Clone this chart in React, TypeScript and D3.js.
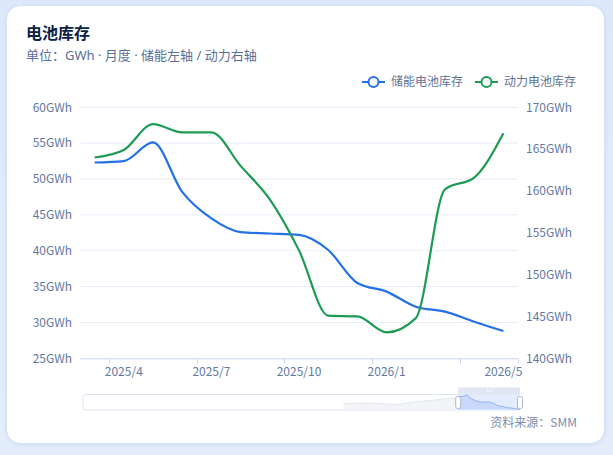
import * as d3 from 'd3';
import { useEffect, useRef } from 'react';

// x categories shown in the chart window
const months = [
  '2025/3', '2025/4', '2025/5', '2025/6', '2025/7', '2025/8', '2025/9', '2025/10',
  '2025/11', '2025/12', '2026/1', '2026/2', '2026/3', '2026/4', '2026/5',
];
// 储能电池库存 (left axis, GWh)
const storage = [52.3, 52.5, 55.1, 48.2, 44.5, 42.6, 42.4, 42.2, 40.1, 35.5, 34.3, 32.2, 31.5, 30.1, 28.8];
// 动力电池库存 (right axis, GWh)
const power = [164.0, 164.9, 168.0, 167.0, 167.0, 163.0, 159.0, 152.9, 145.1, 145.0, 143.1, 144.8, 160.2, 161.6, 166.9];
// earlier storage values, only seen in the zoom slider shadow
const storageHistory = [
  39.3, 39.5, 39.8, 40.0, 40.2, 40.4, 40.5, 40.1, 39.6, 39.1, 38.6, 38.1, 37.6, 38.7,
  39.9, 41.1, 42.3, 43.1, 43.9, 44.7, 45.5, 46.3, 47.2, 48.1, 49.0, 49.8,
];
const emptyMonths = 59; // months before any data in the slider range

const labelMonths = ['2025/4', '2025/7', '2025/10', '2026/1', '2026/5'];
const tickMonths = ['2025/4', '2025/7', '2025/10', '2026/1', '2026/4'];
const leftTicks = [25, 30, 35, 40, 45, 50, 55, 60];
const rightTicks = [140, 145, 150, 155, 160, 165, 170];

const seriesNames = ['储能电池库存', '动力电池库存'];
const colors = ['#2470e6', '#1e9b52'];

const FONT = "'Noto Sans CJK SC', 'Noto Sans', sans-serif";
const SUB_FONT = "'Noto Sans', 'Noto Sans CJK SC', sans-serif";

export default function App() {
  const ref = useRef<SVGSVGElement | null>(null);

  useEffect(() => {
    if (!ref.current) return;
    const svg = d3.select(ref.current);
    svg.selectAll('*').remove();

    const width = 613;
    const height = 455;
    const plot = { left: 80, right: 518, top: 107.3, bottom: 358.3 };
    const axisColor = '#6479a0';

    // page background + card
    const defs = svg.append('defs');
    const bg = defs.append('linearGradient').attr('id', 'bg').attr('x1', 0).attr('y1', 0).attr('x2', 0).attr('y2', 1);
    bg.append('stop').attr('offset', '0%').attr('stop-color', '#dde9fb');
    bg.append('stop').attr('offset', '100%').attr('stop-color', '#e4eefb');
    const sh = defs.append('filter').attr('id', 'sh').attr('x', -0.1).attr('y', -0.1).attr('width', 1.2).attr('height', 1.2);
    sh.append('feDropShadow').attr('dx', 0).attr('dy', 1).attr('stdDeviation', 2).attr('flood-color', '#9fb6dc').attr('flood-opacity', 0.35);

    svg.append('rect').attr('width', width).attr('height', height).attr('fill', 'url(#bg)');
    svg
      .append('rect')
      .attr('x', 6.5)
      .attr('y', 5.5)
      .attr('width', 598)
      .attr('height', 438)
      .attr('rx', 14)
      .attr('fill', '#ffffff')
      .attr('stroke', '#d4e1f4')
      .attr('filter', 'url(#sh)');

    // title
    svg.append('text').attr('x', 26).attr('y', 39).text('电池库存')
      .attr('font-size', 16).attr('font-weight', 700).attr('fill', '#0d2147').attr('font-family', FONT);
    svg.append('text').attr('x', 26).attr('y', 60).text('单位：GWh · 月度 · 储能左轴 / 动力右轴')
      .attr('font-size', 13).attr('fill', '#5a6f98').attr('font-family', SUB_FONT);

    // scales
    const x = d3.scaleBand<string>().domain(months).range([plot.left, plot.right]);
    const cx = (m: string) => (x(m) || 0) + x.bandwidth() / 2;
    const yL = d3.scaleLinear().domain([25, 60]).range([plot.bottom, plot.top]);
    const yR = d3.scaleLinear().domain([140, 170]).range([plot.bottom, plot.top]);

    // grid lines
    svg.append('g').selectAll('line').data(leftTicks.slice(1)).enter().append('line')
      .attr('x1', plot.left).attr('x2', plot.right)
      .attr('y1', (d) => yL(d)).attr('y2', (d) => yL(d))
      .attr('stroke', '#e5edf8').attr('stroke-width', 1);

    // left axis labels
    svg.append('g').selectAll('text').data(leftTicks).enter().append('text')
      .attr('x', plot.left - 8).attr('y', (d) => yL(d)).attr('dy', '0.36em')
      .attr('text-anchor', 'end').text((d) => `${d}GWh`)
      .attr('font-size', 12).attr('fill', axisColor).attr('font-family', FONT);

    // right axis labels
    svg.append('g').selectAll('text').data(rightTicks).enter().append('text')
      .attr('x', plot.right + 8).attr('y', (d) => yR(d)).attr('dy', '0.36em')
      .attr('text-anchor', 'start').text((d) => `${d}GWh`)
      .attr('font-size', 12).attr('fill', axisColor).attr('font-family', FONT);

    // x axis
    svg.append('line').attr('x1', plot.left).attr('x2', plot.right)
      .attr('y1', plot.bottom + 0.5).attr('y2', plot.bottom + 0.5).attr('stroke', '#c9d8ee');
    const tickXs = tickMonths.map((m) => x(m) || 0).concat([plot.right]);
    svg.append('g').selectAll('line').data(tickXs).enter().append('line')
      .attr('x1', (d) => Math.round(d) + 0.5).attr('x2', (d) => Math.round(d) + 0.5)
      .attr('y1', plot.bottom + 0.5).attr('y2', plot.bottom + 5.5).attr('stroke', '#c9d8ee');
    svg.append('g').selectAll('text').data(labelMonths).enter().append('text')
      .attr('x', (d) => cx(d)).attr('y', plot.bottom + 13).attr('dy', '0.36em')
      .attr('text-anchor', 'middle').text((d) => d)
      .attr('font-size', 12).attr('fill', axisColor).attr('font-family', FONT);

    // lines
    const lineL = d3.line<number>().x((_, i) => cx(months[i])).y((d) => yL(d)).curve(d3.curveMonotoneX);
    const lineR = d3.line<number>().x((_, i) => cx(months[i])).y((d) => yR(d)).curve(d3.curveMonotoneX);
    svg.append('path').attr('d', lineL(storage) || '').attr('fill', 'none')
      .attr('stroke', colors[0]).attr('stroke-width', 2.2).attr('stroke-linejoin', 'round');
    svg.append('path').attr('d', lineR(power) || '').attr('fill', 'none')
      .attr('stroke', colors[1]).attr('stroke-width', 2.2).attr('stroke-linejoin', 'round');

    // legend
    const legendX = [362, 475];
    seriesNames.forEach((name, i) => {
      const g = svg.append('g').attr('transform', `translate(${legendX[i]}, 82)`);
      g.append('line').attr('x1', 0).attr('x2', 23).attr('y1', 0).attr('y2', 0)
        .attr('stroke', colors[i]).attr('stroke-width', 2);
      g.append('circle').attr('cx', 11.5).attr('cy', 0).attr('r', 5)
        .attr('fill', '#fff').attr('stroke', colors[i]).attr('stroke-width', 2);
      g.append('text').attr('x', 29).attr('y', 0).attr('dy', '0.36em').text(name)
        .attr('font-size', 12).attr('fill', '#5f7398').attr('font-family', FONT);
    });

    // data zoom slider
    const slider = { left: 83, right: 520, top: 394.5, bottom: 410 };
    const all: (number | null)[] = [
      ...Array.from({ length: emptyMonths }, () => null),
      ...storageHistory,
      ...storage,
    ];
    const sx = d3.scaleLinear().domain([0, all.length - 1]).range([slider.left, slider.right]);
    const ext = d3.extent(all.filter((v): v is number => v !== null)) as [number, number];
    const sy = d3.scaleLinear().domain(ext).range([slider.bottom - 0.5, slider.top + 0.5]);
    const winStart = all.length - storage.length;

    svg.append('rect').attr('x', slider.left).attr('y', slider.top)
      .attr('width', slider.right - slider.left).attr('height', slider.bottom - slider.top)
      .attr('rx', 3).attr('fill', '#fff').attr('stroke', '#dbe4f3');

    const area = d3.area<number | null>()
      .defined((d) => d !== null)
      .x((_, i) => sx(i)).y0(slider.bottom - 0.5).y1((d) => sy(d as number));
    const shadowLine = d3.line<number | null>()
      .defined((d) => d !== null)
      .x((_, i) => sx(i)).y((d) => sy(d as number));

    const outside = all.map((v, i) => (i <= winStart ? v : null));
    const inside = all.map((v, i) => (i >= winStart ? v : null));
    svg.append('path').attr('d', area(outside) || '').attr('fill', '#f2f4f8');
    svg.append('path').attr('d', shadowLine(outside) || '').attr('fill', 'none').attr('stroke', '#e2e6ee');

    // selected window
    const wx0 = sx(winStart);
    const wx1 = sx(all.length - 1);
    svg.append('rect').attr('x', wx0).attr('y', slider.top).attr('width', wx1 - wx0)
      .attr('height', slider.bottom - slider.top).attr('fill', '#e3ecfd');
    svg.append('path').attr('d', area(inside) || '').attr('fill', '#c8d9fb');
    svg.append('path').attr('d', shadowLine(inside) || '').attr('fill', 'none').attr('stroke', '#92b2f2');

    // move handle bar
    svg.append('rect').attr('x', wx0).attr('y', 387.5).attr('width', wx1 - wx0).attr('height', 6.5)
      .attr('fill', '#e0e6f2');
    [-2, 0, 2].forEach((dx) => {
      svg.append('line').attr('x1', (wx0 + wx1) / 2 + dx + 0.5).attr('x2', (wx0 + wx1) / 2 + dx + 0.5)
        .attr('y1', 389.5).attr('y2', 392).attr('stroke', '#fff').attr('stroke-width', 0.8);
    });

    // handles
    [wx0, wx1].forEach((hx) => {
      svg.append('rect').attr('x', hx - 2.5).attr('y', 396.5).attr('width', 5).attr('height', 12)
        .attr('rx', 2).attr('fill', '#fff').attr('stroke', '#aab6cf').attr('stroke-width', 1);
    });

    // source
    svg.append('text').attr('x', 577).attr('y', 423).attr('dy', '0.36em').attr('text-anchor', 'end')
      .text('资料来源：SMM').attr('font-size', 12).attr('fill', '#7d8eae').attr('font-family', FONT);
  }, []);

  return (
    <svg
      ref={ref}
      width={613}
      height={455}
      style={{ position: 'absolute', left: 0, top: 0, display: 'block' }}
      role="img"
      aria-label="电池库存"
    />
  );
}
